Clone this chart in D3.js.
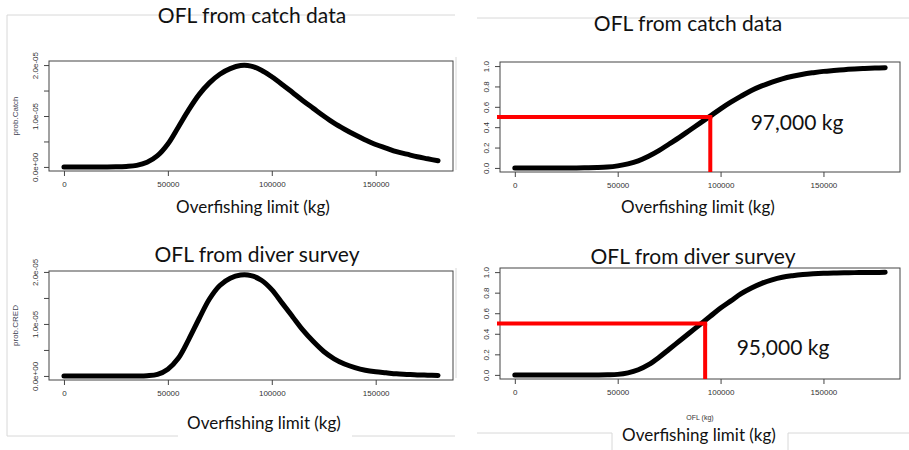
<!DOCTYPE html>
<html>
<head>
<meta charset="utf-8">
<script src="https://cdn.jsdelivr.net/npm/d3@7"></script>
<style>
  body { margin: 0; background: #fff; }
  svg { display: block; }
  .tick text { font-family: "Liberation Sans", Arial, sans-serif; font-size: 8px; fill: #333; }
  .big { font-family: Lato, "Open Sans", sans-serif; fill: #111; }
</style>
</head>
<body>
<svg id="ofl" width="909" height="450"></svg>
<script>
// data
const oflKg = [0, 5000, 10000, 15000, 20000, 25000, 30000, 35000, 40000, 45000,
               50000, 55000, 60000, 65000, 70000, 75000, 80000, 85000, 90000, 95000,
               100000, 105000, 110000, 115000, 120000, 125000, 130000, 135000, 140000, 145000,
               150000, 155000, 160000, 165000, 170000, 175000, 180000];
// densities in units of 1e-05
const probCatch = [0, 0, 0, 0, 0, 0.002, 0.01, 0.03, 0.09, 0.22,
                   0.45, 0.78, 1.12, 1.42, 1.65, 1.82, 1.93, 1.99, 1.98, 1.9,
                   1.77, 1.62, 1.46, 1.3, 1.15, 1.0, 0.86, 0.74, 0.63, 0.53,
                   0.44, 0.37, 0.3, 0.25, 0.2, 0.16, 0.12];
const probCRED = [0, 0, 0, 0, 0, 0, 0, 0, 0.005, 0.03,
                  0.13, 0.34, 0.7, 1.1, 1.48, 1.74, 1.88, 1.94, 1.93, 1.84,
                  1.66, 1.4, 1.14, 0.88, 0.66, 0.47, 0.33, 0.23, 0.16, 0.11,
                  0.08, 0.06, 0.04, 0.03, 0.02, 0.015, 0.01];
const cdfCatch = [0, 0, 0, 0, 0, 0, 0, 0.001, 0.003, 0.008,
                  0.02, 0.04, 0.07, 0.115, 0.17, 0.235, 0.3, 0.37, 0.44, 0.51,
                  0.58, 0.645, 0.705, 0.76, 0.805, 0.843, 0.875, 0.9, 0.92, 0.935,
                  0.948, 0.957, 0.965, 0.971, 0.976, 0.98, 0.984];
const cdfCRED = [0, 0, 0, 0, 0, 0, 0, 0, 0, 0.001,
                 0.005, 0.02, 0.05, 0.1, 0.17, 0.25, 0.33, 0.41, 0.49, 0.57,
                 0.65, 0.72, 0.79, 0.845, 0.89, 0.925, 0.95, 0.965, 0.976, 0.983,
                 0.988, 0.991, 0.993, 0.995, 0.996, 0.997, 0.998];
const medianKg = [95000, 92500];
const medianLabels = ["97,000 kg", "95,000 kg"];
const titles = ["OFL from catch data", "OFL from diver survey"];
const xTicks = [0, 50000, 100000, 150000];
const densTicks = [0, 0.5, 1, 1.5, 2];
const densTickLabels = ["0.0e+00", "", "1.0e-05", "", "2.0e-05"];
const cdfTicks = [0, 0.2, 0.4, 0.6, 0.8, 1.0];

const svg = d3.select("#ofl");

// faint slide frame lines
const frame = svg.append("g").attr("stroke", "#d8d8d8").attr("fill", "none");
[[7, 15, 7, 436], [7, 15, 455, 15], [7, 436, 178, 436], [352, 436, 455, 436],
 [456, 57, 456, 170], [456, 268, 456, 378], [477, 18, 909, 18],
 [477, 433, 612, 433], [612, 433, 612, 450], [788, 433, 788, 450], [788, 433, 909, 433]]
  .forEach(function(l) {
    frame.append("line").attr("x1", l[0]).attr("y1", l[1]).attr("x2", l[2]).attr("y2", l[3]);
  });

const panels = [
  {box: [49, 61, 453, 171], ys: probCatch, dom: [-0.08, 2.08], kind: "dens", ylab: "prob.Catch",
   title: titles[0], tx: 252, ty: 23, lx: 253, ly: 213},
  {box: [500, 62, 900, 172], ys: cdfCatch, dom: [-0.04, 1.04], kind: "cdf", m: 0,
   title: titles[0], tx: 688, ty: 31, lx: 698, ly: 213, ax: 797, ay: 130},
  {box: [49, 271, 453, 380], ys: probCRED, dom: [-0.078, 2.018], kind: "dens", ylab: "prob.CRED",
   title: titles[1], tx: 257, ty: 262, lx: 264, ly: 429},
  {box: [500, 268, 900, 379], ys: cdfCRED, dom: [-0.04, 1.04], kind: "cdf", m: 1,
   title: titles[1], tx: 693, ty: 264, lx: 699, ly: 441, ax: 783, ay: 355, sub: "OFL (kg)"}
];

panels.forEach(function(p) {
  const [x0, y0, x1, y1] = p.box;
  const x = d3.scaleLinear().domain([-7200, 187200]).range([x0, x1]);
  const y = d3.scaleLinear().domain(p.dom).range([y1, y0]);
  const g = svg.append("g");

  g.append("rect")
      .attr("x", x0).attr("y", y0)
      .attr("width", x1 - x0).attr("height", y1 - y0)
      .attr("fill", "none").attr("stroke", "#444");

  const xAxis = g.append("g")
      .attr("transform", "translate(0," + y1 + ")")
      .call(d3.axisBottom(x).tickValues(xTicks).tickFormat(d3.format("d"))
            .tickSize(5).tickPadding(5));
  xAxis.select(".domain").remove();
  xAxis.selectAll("line").attr("stroke", "#444");

  const yAxis = g.append("g")
      .attr("transform", "translate(" + x0 + ",0)")
      .call(d3.axisLeft(y)
            .tickValues(p.kind == "dens" ? densTicks : cdfTicks)
            .tickFormat(function(d, i) {
              return p.kind == "dens" ? densTickLabels[i] : d3.format(".1f")(d);
            })
            .tickSize(5).tickPadding(0));
  yAxis.select(".domain").remove();
  yAxis.selectAll("line").attr("stroke", "#444");
  yAxis.selectAll("text")
      .attr("text-anchor", "middle")
      .attr("x", 0).attr("dy", 0)
      .attr("transform", "translate(-14,0) rotate(-90)")
      .attr("y", 3);

  if (p.ylab) {
    g.append("text")
        .attr("transform", "translate(18," + (y0 + y1) / 2 + ") rotate(-90)")
        .attr("text-anchor", "middle")
        .style("font-family", "Liberation Sans, Arial, sans-serif")
        .style("font-size", "8px").style("fill", "#445")
        .text(p.ylab);
  }

  const line = d3.line()
      .x(function(d, i) { return x(oflKg[i]); })
      .y(function(d) { return y(d); })
      .curve(d3.curveCatmullRom);

  g.append("path")
      .datum(p.ys)
      .attr("d", line)
      .attr("fill", "none")
      .attr("stroke", "#000")
      .attr("stroke-width", 5)
      .attr("stroke-linecap", "round")
      .attr("stroke-linejoin", "round");

  if (p.kind == "cdf") {
    const mx = x(medianKg[p.m]), my = y(0.5);
    g.append("line")
        .attr("x1", x0 - 3).attr("y1", my).attr("x2", mx + 2).attr("y2", my)
        .attr("stroke", "#f00").attr("stroke-width", 4);
    g.append("line")
        .attr("x1", mx).attr("y1", my).attr("x2", mx).attr("y2", y1)
        .attr("stroke", "#f00").attr("stroke-width", 4);
    g.append("text")
        .attr("class", "big")
        .attr("x", p.ax).attr("y", p.ay)
        .attr("text-anchor", "middle")
        .style("font-size", "21px")
        .text(medianLabels[p.m]);
  }

  if (p.sub) {
    g.append("text")
        .attr("x", (x0 + x1) / 2).attr("y", p.ly - 21)
        .attr("text-anchor", "middle")
        .style("font-family", "Liberation Sans, Arial, sans-serif")
        .style("font-size", "7px").style("fill", "#333")
        .text(p.sub);
  }

  g.append("text")
      .attr("class", "big")
      .attr("x", p.tx).attr("y", p.ty)
      .attr("text-anchor", "middle")
      .style("font-size", "21px")
      .text(p.title);

  g.append("text")
      .attr("class", "big")
      .attr("x", p.lx).attr("y", p.ly)
      .attr("text-anchor", "middle")
      .style("font-size", "17px")
      .text("Overfishing limit (kg)");
});
</script>
</body>
</html>
